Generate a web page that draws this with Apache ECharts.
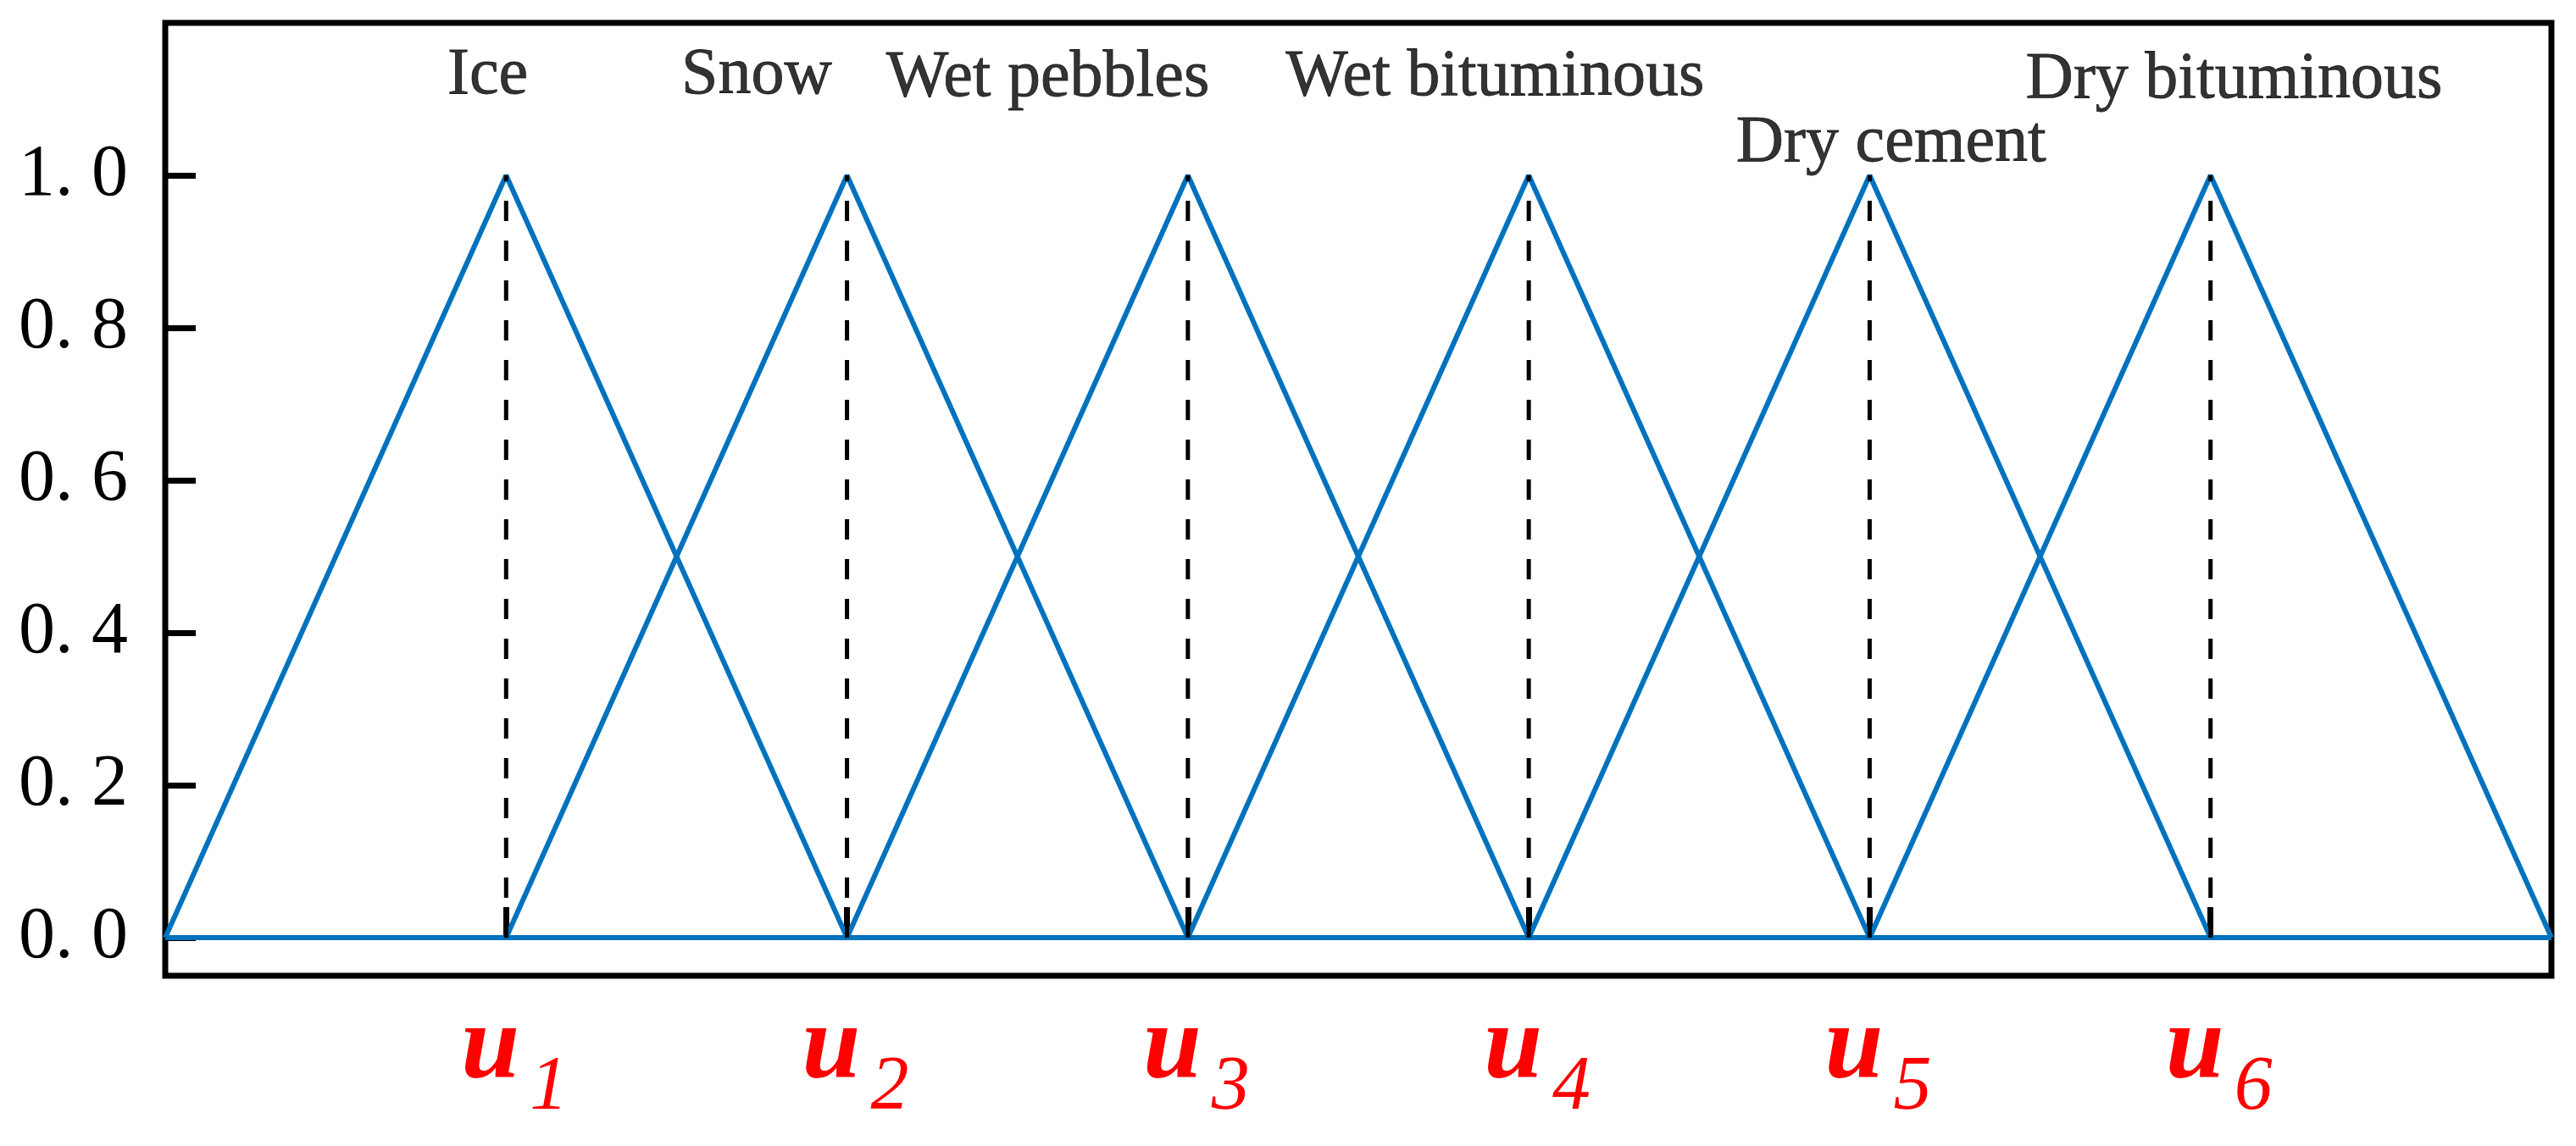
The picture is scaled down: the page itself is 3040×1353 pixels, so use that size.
<!DOCTYPE html>
<html>
<head>
<meta charset="utf-8">
<script src="https://cdn.jsdelivr.net/npm/echarts@6/dist/echarts.min.js"></script>
<style>
html,body{margin:0;padding:0;background:#fff;}
#chart{width:3040px;height:1353px;}
</style>
</head>
<body>
<div id="chart"></div>
<script>
// Universe points (x positions u0..u7)
const xPoints = [0, 1, 2, 3, 4, 5, 6, 7];
// Membership degrees of each fuzzy set at the points above
const muIce            = [0, 1, 0, 0, 0, 0, 0, 0];
const muSnow           = [0, 0, 1, 0, 0, 0, 0, 0];
const muWetPebbles     = [0, 0, 0, 1, 0, 0, 0, 0];
const muWetBituminous  = [0, 0, 0, 0, 1, 0, 0, 0];
const muDryCement      = [0, 0, 0, 0, 0, 1, 0, 0];
const muDryBituminous  = [0, 0, 0, 0, 0, 0, 1, 0];
const memberships = [muIce, muSnow, muWetPebbles, muWetBituminous, muDryCement, muDryBituminous];

// Set names and their label anchor (data units)
const categories = ['Ice', 'Snow', 'Wet pebbles', 'Wet bituminous', 'Dry cement', 'Dry bituminous'];
const labelX = [0.946, 1.735, 2.589, 3.901, 5.063, 6.069];
const labelY = [1.130, 1.130, 1.127, 1.128, 1.042, 1.125];

// Peak (centre) positions u1..u6 and peak value
const centers = [1, 2, 3, 4, 5, 6];
const peakValue = 1;

// Tick values / labels
const xTickValues = [1, 2, 3, 4, 5, 6];
const xTickSubs = ['1', '2', '3', '4', '5', '6'];
const yTickValues = [0, 0.2, 0.4, 0.6, 0.8, 1.0];

const chart = echarts.init(document.getElementById('chart'), null, {renderer: 'canvas'});

const series = [];
memberships.forEach((mu, i) => {
  series.push({
    type: 'line',
    name: categories[i],
    data: xPoints.map((x, j) => [x, mu[j]]),
    symbol: 'none',
    lineStyle: {color: '#0072BD', width: 6},
    z: 3,
    silent: true
  });
});
centers.forEach((c) => {
  series.push({
    type: 'line',
    data: [[c, 0], [c, peakValue]],
    symbol: 'none',
    lineStyle: {color: '#000', width: 5, type: [24, 23]},
    z: 4,
    silent: true
  });
});
series.push({
  type: 'scatter',
  symbolSize: 0,
  data: categories.map((n, i) => ({name: n, value: [labelX[i], labelY[i]]})),
  label: {
    show: true,
    position: 'inside',
    formatter: (p) => p.name,
    fontFamily: 'Liberation Serif',
    fontSize: 78,
    color: '#000',
    textBorderColor: '#000',
    textBorderWidth: 0.8,
    align: 'center',
    verticalAlign: 'middle'
  },
  z: 5,
  silent: true
});

const option = {
  backgroundColor: '#fff',
  animation: false,
  grid: {
    left: 195, right: 29, top: 27, bottom: 201,
    show: true, borderColor: '#000', borderWidth: 7, backgroundColor: 'transparent'
  },
  xAxis: {
    type: 'value', min: 0, max: 7,
    axisLine: {show: false},
    splitLine: {show: false},
    axisTick: {show: true, inside: true, length: 36, customValues: xTickValues,
      lineStyle: {color: '#000', width: 7}},
    axisLabel: {
      show: true, customValues: xTickValues, margin: 46,
      padding: [0, 0, 0, 20],
      formatter: (v) => '{u|u}{s|' + xTickSubs[xTickValues.indexOf(v)] + '}',
      rich: {
        u: {fontFamily: 'Liberation Serif', fontStyle: 'italic', fontWeight: 'bold', fontSize: 124,
            color: '#ff0000', lineHeight: 124, padding: [0, 0, 40, 0]},
        s: {fontFamily: 'Liberation Serif', fontStyle: 'italic', fontSize: 90,
            color: '#ff0000', lineHeight: 90, padding: [50, 0, 0, 12]}
      }
    }
  },
  yAxis: {
    type: 'value', min: -0.05, max: 1.2,
    axisLine: {show: false},
    splitLine: {show: false},
    axisTick: {show: true, inside: true, length: 36, customValues: yTickValues,
      lineStyle: {color: '#000', width: 7}},
    axisLabel: {
      show: true, customValues: yTickValues, margin: 44,
      fontFamily: 'Liberation Serif', fontSize: 86, color: '#000',
      formatter: (v) => v.toFixed(1).replace('.', '. ')
    }
  },
  series: series
};
chart.setOption(option);
</script>
</body>
</html>
